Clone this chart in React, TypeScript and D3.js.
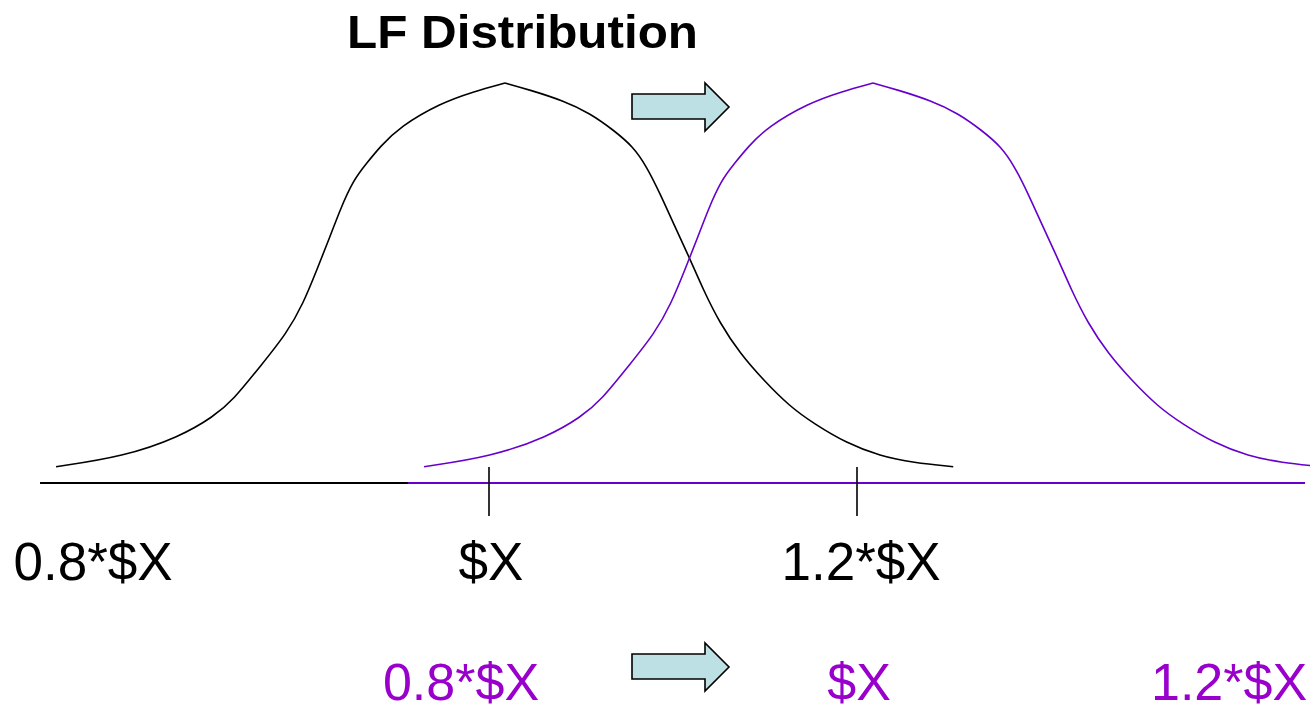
import React from "react";
import * as d3 from "d3";

// ---- data (x in multiples of $X, y relative density) ----
const curveX = [
  0.7647, 0.8013, 0.8321, 0.8502, 0.861, 0.8755, 0.8901, 0.8991, 0.9064, 0.9136, 0.919, 0.9263, 0.9335, 0.9408,
  0.9516, 0.9734, 0.9915, 1.0087, 1.0223, 1.0404, 1.0549, 1.0676, 1.0784, 1.0857, 1.0929, 1.1002, 1.1083, 1.1165,
  1.1255, 1.1364, 1.1491, 1.1636, 1.1763, 1.1944, 1.2125, 1.2306, 1.2523,
];
const curveY = [
  0.0408, 0.0658, 0.1158, 0.1658, 0.2075, 0.2908, 0.3743, 0.4493, 0.5325, 0.6158, 0.6825, 0.7575, 0.7993, 0.8408,
  0.8908, 0.9493, 0.9783, 1.0, 0.9825, 0.9558, 0.9243, 0.8825, 0.8408, 0.7908, 0.7242, 0.6492, 0.57, 0.4825,
  0.3993, 0.3243, 0.2575, 0.1908, 0.1493, 0.0993, 0.0675, 0.0508, 0.0408,
];
const peakIndex = 17;
const shiftAmount = 0.2;
const axisRange = [0.756, 1.2435];
const tickValues = [1.0, 1.2];
const labelTexts = ["0.8*$X", "$X", "1.2*$X"];
const labelAt = [0.7848, 1.0011, 1.2022];
const title = "LF Distribution";

const W = 1310;
const H = 705;

export default function App() {
  const x = d3.scaleLinear().domain([1.0, 1.2]).range([489, 857]);
  const y = d3.scaleLinear().domain([0, 1]).range([483, 83]);
  const pts = curveX.map((v, i) => ({ v, d: curveY[i] }));
  const left = pts.slice(0, peakIndex + 1);
  const right = pts.slice(peakIndex);

  const mkLine = (off: number) =>
    d3
      .line<{ v: number; d: number }>()
      .x((p) => x(p.v + off))
      .y((p) => y(p.d))
      .curve(d3.curveBasis);

  const arrowPath = (top: number) => {
    const x0 = 632, bodyEnd = 705, tip = 729;
    return `M${x0},${top + 11} L${bodyEnd},${top + 11} L${bodyEnd},${top} L${tip},${top + 24} L${bodyEnd},${top + 48} L${bodyEnd},${top + 36} L${x0},${top + 36} Z`;
  };

  const purpleLine = "#6600CC";
  const purpleText = "#9900CC";
  const fontFam = "'Liberation Sans', Arial, sans-serif";

  return (
    <svg
      width={W}
      height={H}
      style={{ position: "absolute", left: 0, top: 0, overflow: "hidden", background: "#fff" }}
    >
      <rect x={0} y={0} width={W} height={H} fill="#fff" />
      <text
        x={347}
        y={48}
        fontFamily={fontFam}
        fontWeight="bold"
        fontSize={47}
        textLength={351}
        lengthAdjust="spacingAndGlyphs"
        fill="#000"
      >
        {title}
      </text>

      {/* baselines */}
      <line x1={x(axisRange[0])} x2={x(axisRange[1])} y1={y(0)} y2={y(0)} stroke="#000" strokeWidth={2} />
      <line
        x1={x(axisRange[0] + shiftAmount)}
        x2={x(axisRange[1] + shiftAmount)}
        y1={y(0)}
        y2={y(0)}
        stroke={purpleLine}
        strokeWidth={2}
      />

      {/* ticks */}
      {tickValues.map((t) => (
        <line key={t} x1={x(t)} x2={x(t)} y1={467} y2={516} stroke="#000" strokeWidth={1.6} />
      ))}

      {/* curves */}
      {[0, shiftAmount].map((off) => (
        <g key={off} fill="none" stroke={off === 0 ? "#000" : purpleLine} strokeWidth={1.6}>
          <path d={mkLine(off)(left) || ""} />
          <path d={mkLine(off)(right) || ""} />
        </g>
      ))}

      {/* arrows */}
      {[83, 643].map((t) => (
        <path key={t} d={arrowPath(t)} fill="#BCE0E3" stroke="#000" strokeWidth={1.6} strokeLinejoin="miter" />
      ))}

      {/* labels */}
      {labelTexts.map((s, i) => (
        <text
          key={"b" + i}
          x={x(labelAt[i])}
          y={580}
          textAnchor="middle"
          fontFamily={fontFam}
          fontSize={53}
          fill="#000"
        >
          {s}
        </text>
      ))}
      {labelTexts.map((s, i) => (
        <text
          key={"p" + i}
          x={x(labelAt[i] + shiftAmount)}
          y={700}
          textAnchor="middle"
          fontFamily={fontFam}
          fontSize={52}
          fill={purpleText}
        >
          {s}
        </text>
      ))}
    </svg>
  );
}
